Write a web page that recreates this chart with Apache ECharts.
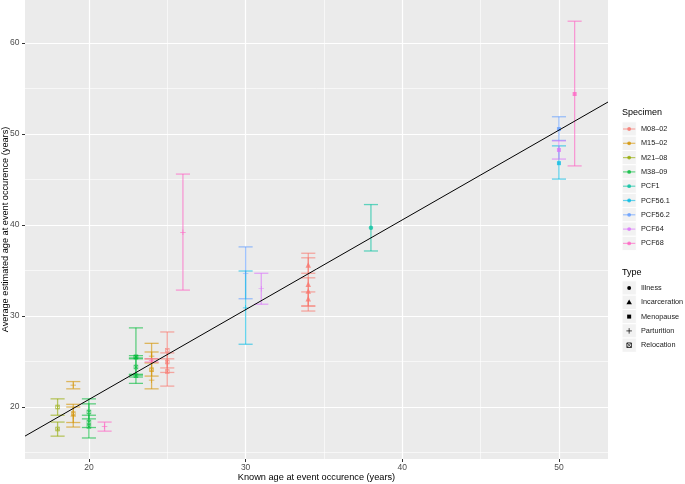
<!DOCTYPE html>
<html>
<head>
<meta charset="utf-8">
<title>Known vs estimated age at event</title>
<script src="https://cdn.jsdelivr.net/npm/echarts@6/dist/echarts.min.js"></script>
<style>
  html, body { margin: 0; padding: 0; background: #fff; }
  #chart { width: 685px; height: 484px; }
</style>
</head>
<body>
<div id="chart"></div>
<script>
// legend levels
const specimens = ['M08–02', 'M15–02', 'M21–08', 'M38–09', 'PCF1', 'PCF56.1', 'PCF56.2', 'PCF64', 'PCF68']
const eventTypes = ['Illness', 'Incarceration', 'Menopause', 'Parturition', 'Relocation']

// one entry per event
const obsSpecimen = [2, 2, 1, 1, 1, 3, 3, 3, 8, 3, 3, 3, 3, 1, 1, 1, 8, 0, 0, 0, 8, 6, 5, 7, 0, 0, 0, 0, 4, 6, 5, 7, 8]
const obsType     = [4, 4, 3, 4, 3, 4, 4, 4, 3, 4, 4, 4, 4, 3, 3, 4, 3, 4, 4, 4, 3, 3, 3, 3, 1, 1, 1, 1, 0, 2, 2, 2, 2]
const obsKnown    = [18, 18, 19, 19, 19, 20, 20, 20, 21, 23, 23, 23, 23, 24, 24, 24, 24, 25, 25, 25, 26, 30, 30, 31, 34, 34, 34, 34, 38, 50, 50, 50, 51]
const obsMean     = [20.0, 17.6, 22.4, 19.3, 19.0, 19.45, 18.35, 17.85, 17.85, 25.5, 25.5, 24.4, 23.45, 22.95, 25.6, 24.1, 25.1,
                     26.25, 24.95, 23.9, 39.2, 34.7, 30.9, 33.0, 35.6, 33.5, 32.75, 31.9, 39.7, 50.55, 46.8, 48.25, 54.4]
const obsLow      = [19.1, 16.8, 22.0, 17.8, 18.3, 18.7, 16.6, 17.75, 17.35, 22.6, 25.3, 23.5, 23.3, 22.0, 24.85, 23.4, 24.95,
                     24.3, 22.3, 23.8, 32.85, 31.9, 26.9, 31.3, 34.7, 31.1, 30.55, 31.1, 37.15, 49.3, 45.05, 47.25, 46.5]
const obsHigh     = [20.9, 18.35, 22.8, 20.3, 20.0, 20.9, 20.35, 19.1, 18.35, 28.7, 25.65, 25.4, 23.6, 27.0, 26.05, 25.3, 25.3,
                     28.25, 25.95, 25.3, 45.6, 37.6, 34.95, 34.7, 36.9, 36.4, 34.2, 32.65, 42.25, 51.9, 48.7, 49.25, 62.4]

// fitted line
const fitIntercept = 1.1
const fitSlope = 0.9866

// axis ticks
const xMajor = [20, 30, 40, 50]
const xMinor = [25, 35, 45]
const yMajor = [20, 30, 40, 50, 60]
const yMinor = [15, 25, 35, 45, 55]

// styling
const colors = ['#F8766D', '#D39200', '#93AA00', '#00BA38', '#00C19F', '#00B9E3', '#619CFF', '#DB72FB', '#FF61C3']
const fontFamily = 'Liberation Sans, Arial, sans-serif'
const xMin = 15.92, xMax = 53.13, yMin = 14.29, yMax = 64.73
const grid = { left: 25, right: 77, top: 0, bottom: 25 }
const gridW = 685 - grid.left - grid.right
const gridH = 484 - grid.top - grid.bottom
const capWidth = 0.9

const plusPath = 'path://M4.4,0h1.2v10h-1.2z M0,4.4h10v1.2h-10z'
const crossSquarePath = 'path://M0,0H10V10H0Z M1.5,1.5V8.5H8.5V1.5Z M1.5,2.5L2.5,1.5L8.5,7.5L7.5,8.5Z M7.5,1.5L8.5,2.5L2.5,8.5L1.5,7.5Z'
const typeSymbols = ['circle', 'triangle', 'rect', plusPath, crossSquarePath]
const typeSizes = [4.5, 5.5, 4, 5.5, 4.5]

const barData = obsKnown.map((x, i) => [x, obsLow[i], obsHigh[i], obsSpecimen[i]])
const pointData = obsKnown.map((x, i) => [x, obsMean[i], obsSpecimen[i], obsType[i]])

const chart = echarts.init(document.getElementById('chart'))

function gridAxis(ticks, width, length) {
  return {
    type: 'value', min: null, max: null,
    axisLine: { show: false },
    axisLabel: { show: false },
    splitLine: { show: false },
    axisTick: { show: true, inside: true, length, customValues: ticks, lineStyle: { color: '#fff', width } }
  }
}

const xGridMajor = Object.assign(gridAxis(xMajor, 1.2, gridH), { min: xMin, max: xMax })
const xGridMinor = Object.assign(gridAxis(xMinor, 0.6, gridH), { min: xMin, max: xMax })
const yGridMajor = Object.assign(gridAxis(yMajor, 1.2, gridW), { min: yMin, max: yMax })
const yGridMinor = Object.assign(gridAxis(yMinor, 0.6, gridW), { min: yMin, max: yMax })

// legend drawn as graphic elements (ggplot style keys)
const legendX = 622, keyH = 14.3
const specimenTop = 129, typeTop = 288
const graphics = []
graphics.push({ type: 'text', x: legendX, y: 113, style: { text: 'Specimen', fontSize: 9, fontFamily, fill: '#000', verticalAlign: 'middle' } })
specimens.forEach((name, i) => {
  const cy = specimenTop + i * keyH
  graphics.push({ type: 'rect', shape: { x: legendX, y: cy - keyH / 2, width: keyH, height: keyH }, style: { fill: '#F2F2F2', stroke: '#fff', lineWidth: 1 } })
  graphics.push({ type: 'line', shape: { x1: legendX + 1, y1: cy, x2: legendX + keyH - 1, y2: cy }, style: { stroke: colors[i], lineWidth: 1.2, opacity: 0.6 } })
  graphics.push({ type: 'circle', shape: { cx: legendX + keyH / 2, cy, r: 1.9 }, style: { fill: colors[i], opacity: 0.8 } })
  graphics.push({ type: 'text', x: legendX + 19, y: cy, style: { text: name, fontSize: 7.3, fontFamily, fill: '#1A1A1A', verticalAlign: 'middle' } })
})
graphics.push({ type: 'text', x: legendX, y: 273, style: { text: 'Type', fontSize: 9, fontFamily, fill: '#000', verticalAlign: 'middle' } })
eventTypes.forEach((name, i) => {
  const cy = typeTop + i * keyH
  const cx = legendX + keyH / 2
  graphics.push({ type: 'rect', shape: { x: legendX, y: cy - keyH / 2, width: keyH, height: keyH }, style: { fill: '#F2F2F2', stroke: '#fff', lineWidth: 1 } })
  const s = typeSizes[i]
  if (i === 0) graphics.push({ type: 'circle', shape: { cx, cy, r: s / 2 - 0.3 }, style: { fill: '#000' } })
  if (i === 1) graphics.push({ type: 'polygon', shape: { points: [[cx, cy - s / 2], [cx + s / 2, cy + s / 2 - 0.8], [cx - s / 2, cy + s / 2 - 0.8]] }, style: { fill: '#000' } })
  if (i === 2) graphics.push({ type: 'rect', shape: { x: cx - s / 2, y: cy - s / 2, width: s, height: s }, style: { fill: '#000' } })
  if (i === 3) {
    graphics.push({ type: 'line', shape: { x1: cx - s / 2, y1: cy, x2: cx + s / 2, y2: cy }, style: { stroke: '#000', lineWidth: 0.7 } })
    graphics.push({ type: 'line', shape: { x1: cx, y1: cy - s / 2, x2: cx, y2: cy + s / 2 }, style: { stroke: '#000', lineWidth: 0.7 } })
  }
  if (i === 4) {
    graphics.push({ type: 'rect', shape: { x: cx - s / 2, y: cy - s / 2, width: s, height: s }, style: { fill: 'none', stroke: '#000', lineWidth: 0.8 } })
    graphics.push({ type: 'line', shape: { x1: cx - s / 2, y1: cy - s / 2, x2: cx + s / 2, y2: cy + s / 2 }, style: { stroke: '#000', lineWidth: 0.6 } })
    graphics.push({ type: 'line', shape: { x1: cx + s / 2, y1: cy - s / 2, x2: cx - s / 2, y2: cy + s / 2 }, style: { stroke: '#000', lineWidth: 0.6 } })
  }
  graphics.push({ type: 'text', x: legendX + 19, y: cy, style: { text: name, fontSize: 7.3, fontFamily, fill: '#1A1A1A', verticalAlign: 'middle' } })
})

chart.setOption({
  animation: false,
  textStyle: { fontFamily },
  grid: Object.assign({ show: true, backgroundColor: '#EBEBEB', borderWidth: 0, containLabel: false, outerBoundsMode: 'none' }, grid),
  xAxis: [
    {
      type: 'value', min: xMin, max: xMax,
      name: 'Known age at event occurence (years)',
      nameLocation: 'middle', nameGap: 14, nameMoveOverlap: false,
      nameTextStyle: { color: '#000', fontSize: 9.2, fontFamily },
      axisLine: { show: false },
      splitLine: { show: false },
      axisTick: { show: true, length: 3, customValues: xMajor, lineStyle: { color: '#333', width: 1 } },
      axisLabel: { customValues: xMajor, color: '#4D4D4D', fontSize: 8.5, margin: 4.5, fontFamily }
    },
    xGridMajor, xGridMinor
  ],
  yAxis: [
    {
      type: 'value', min: yMin, max: yMax,
      name: 'Average estimated age at event occurence (years)',
      nameLocation: 'middle', nameGap: 15, nameMoveOverlap: false,
      nameTextStyle: { color: '#000', fontSize: 9.2, fontFamily },
      axisLine: { show: false },
      splitLine: { show: false },
      axisTick: { show: true, length: 3, customValues: yMajor, lineStyle: { color: '#333', width: 1 } },
      axisLabel: { customValues: yMajor, color: '#4D4D4D', fontSize: 8.5, margin: 5.5, fontFamily }
    },
    yGridMajor, yGridMinor
  ],
  graphic: graphics,
  series: [
    {
      type: 'custom',
      data: barData,
      z: 3,
      renderItem: (params, api) => {
        const x = api.value(0)
        const top = api.coord([x, api.value(2)])
        const bot = api.coord([x, api.value(1)])
        const l = api.coord([x - capWidth / 2, api.value(2)])[0]
        const r = api.coord([x + capWidth / 2, api.value(2)])[0]
        const style = { stroke: colors[api.value(3)], lineWidth: 1.3, opacity: 0.6 }
        return {
          type: 'group',
          children: [
            { type: 'line', shape: { x1: top[0], y1: top[1], x2: bot[0], y2: bot[1] }, style },
            { type: 'line', shape: { x1: l, y1: top[1], x2: r, y2: top[1] }, style },
            { type: 'line', shape: { x1: l, y1: bot[1], x2: r, y2: bot[1] }, style }
          ]
        }
      }
    },
    {
      type: 'scatter',
      data: pointData,
      z: 4,
      symbol: (val) => typeSymbols[val[3]],
      symbolSize: (val) => typeSizes[val[3]],
      itemStyle: { color: (p) => colors[p.value[2]], opacity: 0.75 }
    },
    {
      type: 'line',
      z: 5,
      data: [[xMin, fitIntercept + fitSlope * xMin], [xMax, fitIntercept + fitSlope * xMax]],
      symbol: 'none',
      lineStyle: { color: '#000', width: 1 }
    }
  ]
})
</script>
</body>
</html>
